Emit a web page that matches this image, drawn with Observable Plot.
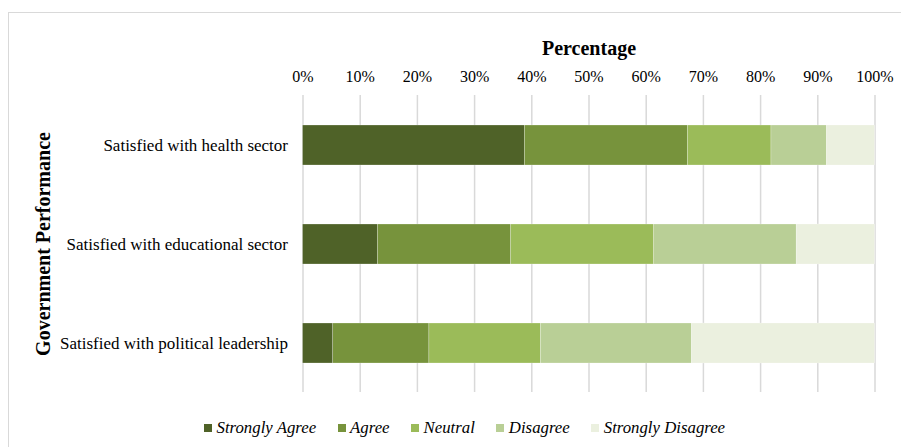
<!DOCTYPE html>
<html>
<head>
<meta charset="utf-8">
<script src="https://cdn.jsdelivr.net/npm/d3@7"></script>
<script src="https://cdn.jsdelivr.net/npm/@observablehq/plot@0.6"></script>
<style>
  html, body { margin: 0; padding: 0; background: #fff; width: 901px; height: 447px; overflow: hidden; }
  #frame { position: absolute; left: 8px; top: 12px; width: 1000px; height: 1000px; border: 1px solid #d9d9d9; box-sizing: border-box; }
  #chart { position: absolute; left: 0; top: 0; }
  #chart svg, #chart svg text { font-family: "Liberation Serif", Times, "DejaVu Serif", serif !important; }
  #legend { position: absolute; left: 204px; top: 418px; display: flex; align-items: center; gap: 21.5px;
            font-family: "Liberation Serif", Times, "DejaVu Serif", serif; font-style: italic; font-size: 16.8px; color: #000; white-space: nowrap; }
  .item { display: flex; align-items: center; gap: 4.5px; }
  .sw { width: 8px; height: 8px; display: inline-block; }
</style>
</head>
<body>
<div id="frame"></div>
<div id="chart"></div>
<div id="legend"></div>
<script>
const categories = ["Satisfied with health sector", "Satisfied with educational sector", "Satisfied with political leadership"];
const responses = ["Strongly Agree", "Agree", "Neutral", "Disagree", "Strongly Disagree"];
const stronglyAgree = [38.8, 13.1, 5.3];
const agree = [28.5, 23.3, 16.8];
const neutral = [14.6, 25.0, 19.5];
const disagree = [9.7, 24.9, 26.4];
const stronglyDisagree = [8.4, 13.7, 32.0];
const colors = ["#4f6228", "#77933c", "#9bbb59", "#b9cf96", "#ebf0df"];
const tickValues = [0, 10, 20, 30, 40, 50, 60, 70, 80, 90, 100];
const xTitle = "Percentage";
const yTitle = "Government Performance";

const seriesValues = [stronglyAgree, agree, neutral, disagree, stronglyDisagree];
const data = [];
categories.forEach((c, i) => {
  responses.forEach((r, j) => data.push({category: c, response: r, value: seriesValues[j][i]}));
});

const chart = Plot.plot({
  width: 901,
  height: 400,
  marginLeft: 302.5,
  marginRight: 26.5,
  marginTop: 95,
  marginBottom: 8,
  style: {color: "#000", background: "transparent", overflow: "visible"},
  x: {domain: [0, 100]},
  y: {domain: categories, paddingInner: 0.6, paddingOuter: 0.3},
  color: {domain: responses, range: colors},
  marks: [
    Plot.gridX(tickValues, {stroke: "#d9d9d9", strokeOpacity: 1, strokeWidth: 1.5}),
    Plot.barX(data, Plot.stackX({x: "value", y: "category", fill: "response", stroke: "#ffffff", strokeWidth: 0.4, strokeOpacity: 0.6})),
    Plot.axisX(tickValues, {anchor: "top", tickSize: 0, tickPadding: 14, tickFormat: d => d + "%", label: null, fontSize: 16}),
    Plot.axisY({tickSize: 0, tickPadding: 15, label: null, fontSize: 17}),
    Plot.text([xTitle], {text: d => d, frameAnchor: "top", lineAnchor: "middle", dy: -47, fontSize: 20, fontWeight: "bold"}),
    Plot.text([yTitle], {text: d => d, frameAnchor: "left", textAnchor: "middle", lineAnchor: "middle", dx: -259, rotate: -90, fontSize: 20, fontWeight: "bold"})
  ]
});
document.getElementById("chart").appendChild(chart);

const legend = document.getElementById("legend");
responses.forEach((r, j) => {
  const item = document.createElement("div");
  item.className = "item";
  const sw = document.createElement("span");
  sw.className = "sw";
  sw.style.background = colors[j];
  const t = document.createElement("span");
  t.textContent = r;
  item.appendChild(sw);
  item.appendChild(t);
  legend.appendChild(item);
});
</script>
</body>
</html>
